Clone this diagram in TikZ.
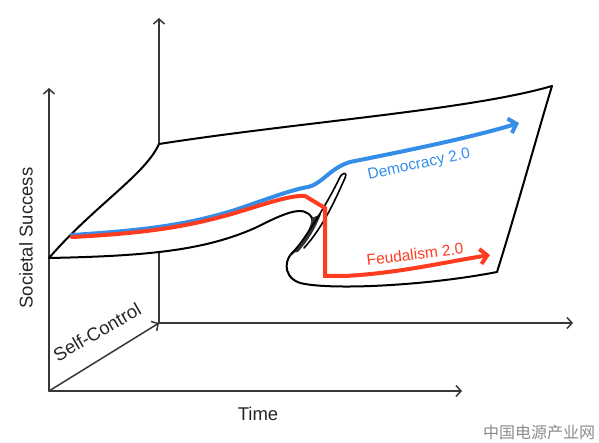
\documentclass[tikz,border=0pt]{standalone}
\usepackage{fontspec}
\setmainfont{Liberation Sans}
\newfontfamily\cjk{Noto Sans CJK SC}
\usetikzlibrary{arrows.meta}

\definecolor{demblue}{RGB}{52,142,232}
\definecolor{feudred}{RGB}{255,60,32}
\definecolor{axisgray}{RGB}{55,55,55}

\begin{document}
\begin{tikzpicture}[x=1pt, y=-1pt, line cap=round, line join=round,
    axisline/.style={draw=axisgray, line width=1.5pt},
    axis/.style={axisline, -{Straight Barb[length=5pt, width=11pt]}},
    sheet/.style={draw=black, line width=2pt},
    trend/.style={line width=4pt, -{Straight Barb[length=7pt, width=15pt]}},
    axislabel/.style={inner sep=0pt, text=black!85, font=\fontsize{18.5}{22}\selectfont},
    trendlabel/.style={inner sep=0pt, font=\fontsize{15.5}{19}\selectfont}]

  % ── 坐标原点与轴端 ──
  \coordinate (O1) at (49,391);    % 前面的原点
  \coordinate (O2) at (159,323);   % 后面的原点
  \coordinate (Y1) at (49,88);
  \coordinate (X1) at (462,391);
  \coordinate (Y2) at (159,18);
  \coordinate (X2) at (573,323);

  % ── 曲面四角 ──
  \coordinate (A) at (49,258);
  \coordinate (B) at (159,144);
  \coordinate (C) at (552,86);
  \coordinate (D) at (497,272);

  % ── 前面的两根轴 + Self-Control 斜轴 ──
  \draw[axis] (O1) -- (Y1);
  \draw[axis] (O1) -- (X1);
  \draw[axis] (O1) -- (O2);

  % ── 后面的两根轴（竖轴被曲面挡住一段）──
  \draw[axis] (O2) -- (X2);
  \draw[axisline] (O2) -- (159,253);
  \draw[axis] (B) -- (Y2);

  % ── 曲面外框 ──
  \draw[sheet] (A) .. controls (95,205) and (145,175) .. (B);
  \draw[sheet] (B) .. controls (300,122) and (470,110) .. (C);
  \draw[sheet] (C) .. controls (540,125) and (515,215) .. (D);

  % 前下沿：向右卷起，折进褶皱，再从底下绕回到 D
  \draw[sheet] (A) .. controls (150,256) and (205,250) .. (255,228)
     .. controls (285,213) and (304,204) .. (312,218)
     .. controls (316,228) and (300,245) .. (292,253)
     .. controls (283,262) and (284,281) .. (305,284)
     .. controls (340,290) and (430,285) .. (D);

  % ── 褶皱：细长的环 + 阴影 ──
  \fill[black!80] (312,218) .. controls (310,232) and (300,245) .. (292,253)
     -- (298,252) .. controls (307,242) and (315,230) .. (321,214) -- cycle;
  \draw[sheet, line width=1.6pt] (292,254) .. controls (310,232) and (330,198) .. (339,179)
     .. controls (342,172) and (348,171) .. (345,178)
     .. controls (336,198) and (324,226) .. (304,248);

  % ── 两条走势线 ──
  \draw[trend, demblue] (72,235) .. controls (150,230) and (190,224) .. (235,210)
     .. controls (265,200) and (290,190) .. (308,187)
     .. controls (322,184) and (330,168) .. (350,162)
     .. controls (400,152) and (470,138) .. (519,123);

  \draw[trend, feudred, line join=miter] (72,237) .. controls (150,233) and (190,226) .. (235,213)
     .. controls (265,204) and (290,195) .. (305,196)
     -- (325,208) -- (325,276) -- (345,276)
     .. controls (400,273) and (445,262) .. (490,255);

  % ── 标签 ──
  \node[axislabel, rotate=90] (succ) at (26,238) {Societal Success};
  \node[axislabel, rotate=30] (selfc) at (97,332) {Self-Control};
  \node[axislabel] (time) at (258,414) {Time};
  \node[trendlabel, text=demblue, rotate=12] (dem) at (419,165) {Democracy 2.0};
  \node[trendlabel, text=feudred, rotate=7] (feud) at (415,254) {Feudalism 2.0};
  \node[inner sep=0pt, text=black!45, font=\cjk\fontsize{16}{19}\selectfont] (mark) at (539,432) {中国电源产业网};

  \path[use as bounding box] (0,0) rectangle (599,443);
\end{tikzpicture}
\end{document}
